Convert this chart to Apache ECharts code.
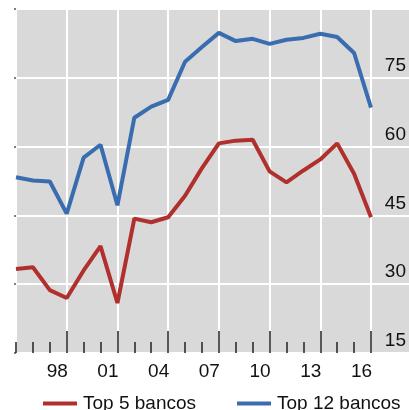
<!DOCTYPE html>
<html>
<head>
<meta charset="utf-8">
<script src="https://cdn.jsdelivr.net/npm/echarts@6/dist/echarts.min.js"></script>
<style>html,body{margin:0;padding:0;background:#fff}#c{width:409px;height:410px}</style>
</head>
<body>
<div id="c"></div>
<script>
const years = [1995,1996,1997,1998,1999,2000,2001,2002,2003,2004,2005,2006,2007,2008,2009,2010,2011,2012,2013,2014,2015,2016];
const top5 = [33.3,33.7,28.7,27.0,33.0,38.3,25.9,44.3,43.5,44.6,49.3,55.3,60.7,61.3,61.5,54.6,52.2,54.8,57.2,60.7,54.1,44.6];
const top12 = [53.3,52.6,52.4,45.4,57.6,60.4,47.2,66.3,68.7,70.2,78.5,81.7,84.8,83.0,83.5,82.4,83.3,83.7,84.6,83.9,80.4,68.5];
const yTicks = [15,30,45,60,75];
const seriesNames = ['Top 5 bancos','Top 12 bancos'];

const FONT = '"Liberation Sans", Arial, sans-serif';
const chart = echarts.init(document.getElementById('c'), null, {renderer:'canvas'});
const pair = (arr) => years.map((y,i)=>[y,arr[i]]);
chart.setOption({
  animation:false,
  textStyle:{fontFamily:FONT},
  grid:[
    {left:16,right:0,top:9,bottom:57,show:true,backgroundColor:'#d9d9d9',borderWidth:0},
    {left:16,width:355,top:9,bottom:57,show:false}
  ],
  xAxis:[
    {gridIndex:0,type:'value',position:'bottom',min:1995,max:2018.248,axisLine:{show:false},axisTick:{show:false},axisLabel:{show:false},splitLine:{show:false}},
    {gridIndex:1,type:'value',position:'bottom',offset:0,min:1995,max:2016,interval:3,
      axisLine:{show:false},
      axisTick:{show:true,inside:true,length:22,lineStyle:{color:'#222',width:1.5}},
      splitLine:{show:true,lineStyle:{color:'#ffffff',width:2}},
      axisLabel:{show:true,showMinLabel:false,showMaxLabel:true,margin:9,fontSize:19,color:'#111',fontFamily:FONT,
        padding:[0,19,0,0],
        formatter:(v)=>String(Math.round(v)%100).padStart(2,'0')}},
    {gridIndex:1,type:'value',position:'bottom',offset:0,min:1995,max:2016,interval:1,
      axisLine:{show:false},
      axisTick:{show:true,inside:true,length:11,lineStyle:{color:'#222',width:1.5}},
      splitLine:{show:false},axisLabel:{show:false}}
  ],
  yAxis:[
    {gridIndex:0,type:'value',position:'right',min:15,max:90,interval:15,
      axisLine:{show:false},axisTick:{show:false},
      splitLine:{show:true,lineStyle:{color:'#ffffff',width:2}},
      axisLabel:{show:true,inside:true,margin:3,fontSize:19,color:'#111',fontFamily:FONT,
        showMaxLabel:false,verticalAlign:'bottom',lineHeight:24,
        formatter:(v)=>yTicks.includes(v)?String(v):''}},
    {gridIndex:1,type:'value',position:'left',min:15,max:90,interval:15,
      axisLine:{show:false},axisTick:{show:true,length:2,lineStyle:{color:'#555',width:1.5}},
      splitLine:{show:false},axisLabel:{show:false}}
  ],
  legend:[
    {data:[{name:seriesNames[0]}],left:38,top:389,icon:'rect',itemWidth:34,itemHeight:4,itemGap:10,
      textStyle:{fontSize:19,color:'#111',fontFamily:FONT,padding:[0,0,0,1]}},
    {data:[{name:seriesNames[1]}],left:232,top:389,icon:'rect',itemWidth:34,itemHeight:4,itemGap:10,
      textStyle:{fontSize:19,color:'#111',fontFamily:FONT,padding:[0,0,0,1]}}
  ],
  series:[
    {name:seriesNames[0],type:'line',xAxisIndex:0,yAxisIndex:0,data:pair(top5),showSymbol:false,
      itemStyle:{color:'#b0302e'},lineStyle:{color:'#b0302e',width:4},z:3},
    {name:seriesNames[1],type:'line',xAxisIndex:0,yAxisIndex:0,data:pair(top12),showSymbol:false,
      itemStyle:{color:'#3a6db0'},lineStyle:{color:'#3a6db0',width:4},z:3}
  ]
});
</script>
</body>
</html>
